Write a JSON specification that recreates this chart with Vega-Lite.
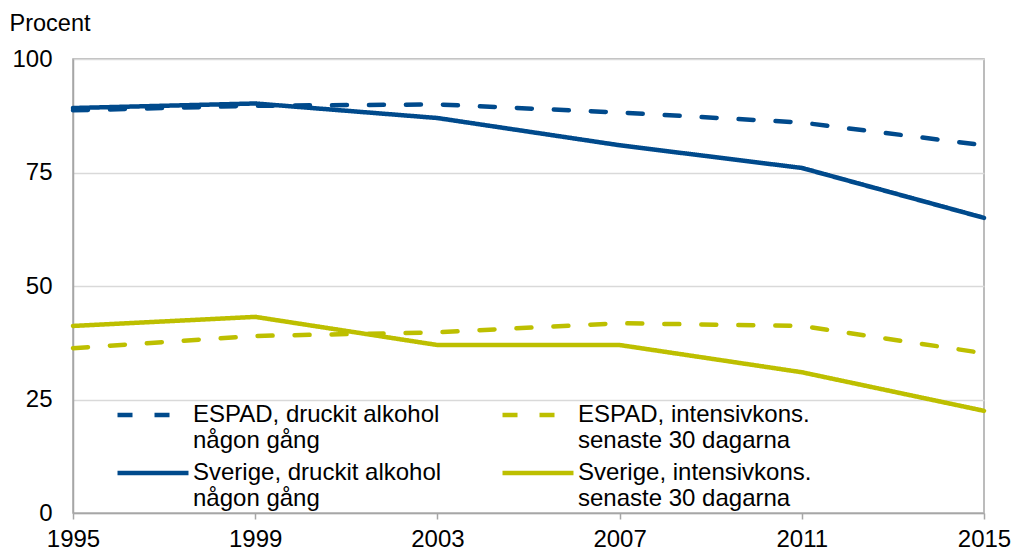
{
  "$schema": "https://vega.github.io/schema/vega-lite/v6.json",
  "width": 911,
  "height": 454,
  "autosize": {"type": "none"},
  "padding": {"left": 73, "top": 59, "right": 27, "bottom": 38},
  "background": "white",
  "config": {
    "font": "Liberation Sans",
    "view": {"stroke": "#a6a6a6", "strokeWidth": 1.5}
  },
  "data": {
    "values": [
      {"ar": 1995, "serie": "ESPAD, druckit alkohol|någon gång", "varde": 88.7},
      {"ar": 1999, "serie": "ESPAD, druckit alkohol|någon gång", "varde": 89.7},
      {"ar": 2003, "serie": "ESPAD, druckit alkohol|någon gång", "varde": 90},
      {"ar": 2007, "serie": "ESPAD, druckit alkohol|någon gång", "varde": 88.2},
      {"ar": 2011, "serie": "ESPAD, druckit alkohol|någon gång", "varde": 86},
      {"ar": 2015, "serie": "ESPAD, druckit alkohol|någon gång", "varde": 81},
      {"ar": 1995, "serie": "Sverige, druckit alkohol|någon gång", "varde": 89.2},
      {"ar": 1999, "serie": "Sverige, druckit alkohol|någon gång", "varde": 90.2},
      {"ar": 2003, "serie": "Sverige, druckit alkohol|någon gång", "varde": 87},
      {"ar": 2007, "serie": "Sverige, druckit alkohol|någon gång", "varde": 81},
      {"ar": 2011, "serie": "Sverige, druckit alkohol|någon gång", "varde": 76},
      {"ar": 2015, "serie": "Sverige, druckit alkohol|någon gång", "varde": 65},
      {"ar": 1995, "serie": "ESPAD, intensivkons.|senaste 30 dagarna", "varde": 36.3},
      {"ar": 1999, "serie": "ESPAD, intensivkons.|senaste 30 dagarna", "varde": 39},
      {"ar": 2003, "serie": "ESPAD, intensivkons.|senaste 30 dagarna", "varde": 39.8},
      {"ar": 2007, "serie": "ESPAD, intensivkons.|senaste 30 dagarna", "varde": 41.8},
      {"ar": 2011, "serie": "ESPAD, intensivkons.|senaste 30 dagarna", "varde": 41.2},
      {"ar": 2015, "serie": "ESPAD, intensivkons.|senaste 30 dagarna", "varde": 35.2},
      {"ar": 1995, "serie": "Sverige, intensivkons.|senaste 30 dagarna", "varde": 41.2},
      {"ar": 1999, "serie": "Sverige, intensivkons.|senaste 30 dagarna", "varde": 43.2},
      {"ar": 2003, "serie": "Sverige, intensivkons.|senaste 30 dagarna", "varde": 37},
      {"ar": 2007, "serie": "Sverige, intensivkons.|senaste 30 dagarna", "varde": 37},
      {"ar": 2011, "serie": "Sverige, intensivkons.|senaste 30 dagarna", "varde": 31},
      {"ar": 2015, "serie": "Sverige, intensivkons.|senaste 30 dagarna", "varde": 22.5}
    ]
  },
  "mark": {"type": "line", "strokeWidth": 4.5, "strokeCap": "round", "strokeJoin": "round", "clip": false},
  "encoding": {
    "x": {
      "field": "ar",
      "type": "quantitative",
      "scale": {"domain": [1995, 2015], "nice": false, "zero": false},
      "axis": {
        "values": [1995, 1999, 2003, 2007, 2011, 2015],
        "format": "d",
        "title": null,
        "grid": false,
        "domainColor": "#a6a6a6",
        "domainWidth": 1.5,
        "tickColor": "#a6a6a6",
        "tickWidth": 1.5,
        "tickSize": 6,
        "labelFontSize": 24,
        "labelColor": "black",
        "labelPadding": 8,
        "labelFlush": false,
        "labelOverlap": false
      }
    },
    "y": {
      "field": "varde",
      "type": "quantitative",
      "scale": {"domain": [0, 100], "nice": false},
      "axis": {
        "values": [0, 25, 50, 75, 100],
        "title": "Procent",
        "titleAngle": 0,
        "titleAlign": "left",
        "titleBaseline": "alphabetic",
        "titleX": -64,
        "titleY": -29,
        "titleFontSize": 23.5,
        "titleFontWeight": "normal",
        "titleColor": "black",
        "grid": true,
        "gridColor": "#d9d9d9",
        "gridWidth": 1.5,
        "domainColor": "#a6a6a6",
        "domainWidth": 1.5,
        "ticks": false,
        "labelFontSize": 24,
        "labelColor": "black",
        "labelPadding": 21
      }
    },
    "color": {
      "field": "serie",
      "type": "nominal",
      "scale": {
        "domain": [
          "ESPAD, druckit alkohol|någon gång",
          "Sverige, druckit alkohol|någon gång",
          "ESPAD, intensivkons.|senaste 30 dagarna",
          "Sverige, intensivkons.|senaste 30 dagarna"
        ],
        "range": ["#004a8c", "#004a8c", "#bdbf00", "#bdbf00"]
      },
      "legend": {
        "title": null,
        "orient": "none",
        "legendX": 60,
        "legendY": 336,
        "columns": 2,
        "columnPadding": 51,
        "rowPadding": 0,
        "symbolType": "M-2,0L2,0",
        "symbolSize": 1260,
        "symbolStrokeWidth": 4.5,
        "symbolOffset": 0,
        "labelFontSize": 24,
        "labelColor": "black",
        "labelOffset": 20,
        "labelLimit": 400,
        "labelBaseline": "middle",
        "labelExpr": "split(datum.label, '|')"
      }
    },
    "strokeDash": {
      "field": "serie",
      "type": "nominal",
      "scale": {
        "domain": [
          "ESPAD, druckit alkohol|någon gång",
          "Sverige, druckit alkohol|någon gång",
          "ESPAD, intensivkons.|senaste 30 dagarna",
          "Sverige, intensivkons.|senaste 30 dagarna"
        ],
        "range": [[15, 22], [1, 0], [15, 22], [1, 0]]
      },
      "legend": null
    }
  }
}
